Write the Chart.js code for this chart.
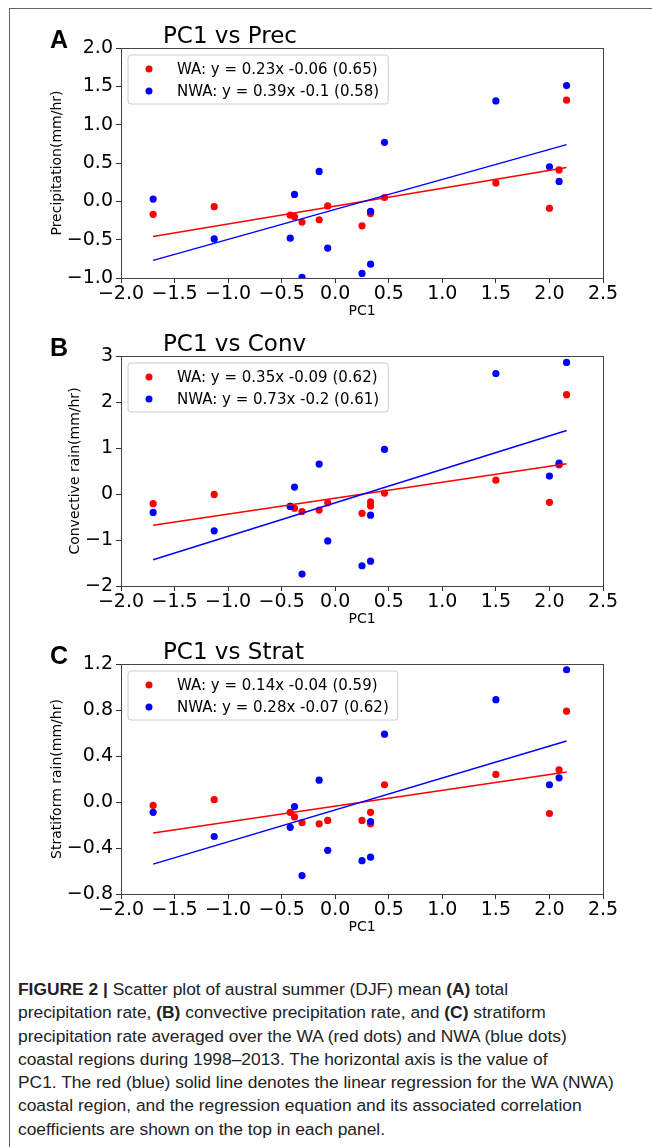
<!DOCTYPE html>
<html>
<head>
<meta charset="utf-8">
<script src="https://cdn.jsdelivr.net/npm/chart.js@4.4.0/dist/chart.umd.min.js"></script>
<style>
  html, body { margin:0; padding:0; background:#fff; }
  body { width:652px; height:1147px; position:relative; overflow:hidden; font-family:'DejaVu Sans', sans-serif; }
  .frame { position:absolute; left:9px; top:8px; width:660px; height:1160px; border-top:1.5px solid #666; border-left:1.5px solid #666; }
  .panel { position:absolute; left:0; width:652px; height:320px; }
  .panel canvas { position:absolute; left:0; top:0; }
  .letter { position:absolute; left:50px; top:27px; font:bold 25px 'Liberation Sans', Arial, sans-serif; line-height:1; color:#000; }
  .ptitle { position:absolute; left:163px; top:24px; font:23px 'DejaVu Sans', sans-serif; line-height:1; color:#000; }
  .caption { position:absolute; left:18px; top:978px; font:17.4px 'Liberation Sans', Arial, sans-serif; line-height:23.3px; color:#222; white-space:nowrap; }
  .caption b { font-weight:bold; }
</style>
</head>
<body>
<div class="frame"></div>

<div class="panel" style="top:0px">
  <canvas id="chartA" width="652" height="320"></canvas>
  <div class="letter">A</div>
  <div class="ptitle">PC1 vs Prec</div>
</div>
<div class="panel" style="top:308px">
  <canvas id="chartB" width="652" height="320"></canvas>
  <div class="letter">B</div>
  <div class="ptitle">PC1 vs Conv</div>
</div>
<div class="panel" style="top:616px">
  <canvas id="chartC" width="652" height="320"></canvas>
  <div class="letter">C</div>
  <div class="ptitle">PC1 vs Strat</div>
</div>

<div class="caption">
  <b>FIGURE 2 |</b> Scatter plot of austral summer (DJF) mean <b>(A)</b> total<br>
  precipitation rate, <b>(B)</b> convective precipitation rate, and <b>(C)</b> stratiform<br>
  precipitation rate averaged over the WA (red dots) and NWA (blue dots)<br>
  coastal regions during 1998–2013. The horizontal axis is the value of<br>
  PC1. The red (blue) solid line denotes the linear regression for the WA (NWA)<br>
  coastal region, and the regression equation and its associated correlation<br>
  coefficients are shown on the top in each panel.
</div>

<script>
// PC1 value per DJF season (shared by all panels)
const pc1 = [-1.70, -1.13, -0.42, -0.38, -0.31, -0.15, -0.07, 0.25, 0.33, 0.33, 0.46, 1.50, 2.00, 2.09, 2.16];

// A: total precipitation (mm/hr)
const precWA  = [-0.17, -0.07, -0.18, -0.20, -0.27, -0.24, -0.06, -0.32, -0.16, -0.14, 0.05, 0.24, -0.09, 0.41, 1.32];
const precNWA = [ 0.03, -0.49, -0.48,  0.09, -0.99,  0.39, -0.61, -0.94, -0.13, -0.82, 0.77, 1.31,  0.45, 0.26, 1.51];

// B: convective rain (mm/hr)
const convWA  = [-0.21, -0.01, -0.27, -0.31, -0.38, -0.35, -0.19, -0.42, -0.17, -0.26, 0.02, 0.30, -0.18, 0.63, 2.16];
const convNWA = [-0.40, -0.80, -0.27,  0.15, -1.74,  0.65, -1.02, -1.56, -0.46, -1.46, 0.97, 2.62,  0.39, 0.67, 2.86];

// C: stratiform rain (mm/hr)
const stratWA  = [-0.03,  0.02, -0.09, -0.13, -0.18, -0.19, -0.16, -0.16, -0.09, -0.19, 0.15, 0.24, -0.10, 0.28, 0.79];
const stratNWA = [-0.09, -0.30, -0.22, -0.04, -0.64,  0.19, -0.42, -0.51, -0.17, -0.48, 0.59, 0.89,  0.15, 0.21, 1.15];

// regression line ends (at min and max PC1)
const lineX        = [-1.70, 2.16];
const precFitWA    = [-0.46, 0.44];
const precFitNWA   = [-0.77, 0.74];
const convFitWA    = [-0.68, 0.66];
const convFitNWA   = [-1.43, 1.38];
const stratFitWA   = [-0.27, 0.26];
const stratFitNWA  = [-0.54, 0.53];

// legend text
const precLabels  = ['WA: y = 0.23x -0.06 (0.65)', 'NWA: y = 0.39x -0.1 (0.58)'];
const convLabels  = ['WA: y = 0.35x -0.09 (0.62)', 'NWA: y = 0.73x -0.2 (0.61)'];
const stratLabels = ['WA: y = 0.14x -0.04 (0.59)', 'NWA: y = 0.28x -0.07 (0.62)'];

// ticks
const xTicks     = [-2.0, -1.5, -1.0, -0.5, 0.0, 0.5, 1.0, 1.5, 2.0, 2.5];
const precTicks  = [-1.0, -0.5, 0.0, 0.5, 1.0, 1.5, 2.0];
const convTicks  = [-2, -1, 0, 1, 2, 3];
const stratTicks = [-0.8, -0.4, 0.0, 0.4, 0.8, 1.2];

const RED = '#ff0000', BLUE = '#0000ff';
const FONT = "'DejaVu Sans', sans-serif";
const fmt = (v, d) => v.toFixed(d).replace('-', '\u2212');

// matplotlib-like legend box in upper left of the axes
const boxLegend = {
  id: 'boxLegend',
  afterDatasetsDraw(chart) {
    const ctx = chart.ctx, a = chart.chartArea;
    const items = chart.data.datasets.filter(d => d.inLegend);
    ctx.save();
    ctx.font = '15px ' + FONT;
    const tw = Math.max(...items.map(d => ctx.measureText(d.label).width));
    const x0 = a.left + 7, y0 = a.top + 7, w = 49 + tw + 9, h = 49, r = 3;
    ctx.beginPath();
    ctx.moveTo(x0 + r, y0);
    ctx.arcTo(x0 + w, y0, x0 + w, y0 + h, r);
    ctx.arcTo(x0 + w, y0 + h, x0, y0 + h, r);
    ctx.arcTo(x0, y0 + h, x0, y0, r);
    ctx.arcTo(x0, y0, x0 + w, y0, r);
    ctx.closePath();
    ctx.fillStyle = 'rgba(255,255,255,0.8)';
    ctx.fill();
    ctx.strokeStyle = '#cccccc';
    ctx.lineWidth = 1;
    ctx.stroke();
    items.forEach((d, i) => {
      const cy = y0 + 14 + i * 22;
      ctx.beginPath();
      ctx.arc(x0 + 21, cy, 3.5, 0, Math.PI * 2);
      ctx.fillStyle = d.backgroundColor;
      ctx.fill();
      ctx.fillStyle = '#000';
      ctx.textBaseline = 'middle';
      ctx.fillText(d.label, x0 + 49, cy + 1);
    });
    ctx.restore();
  }
};

// four spines round the axes
const frame = {
  id: 'frame',
  afterDraw(chart) {
    const ctx = chart.ctx, a = chart.chartArea;
    ctx.save();
    ctx.strokeStyle = '#444';
    ctx.lineWidth = 1;
    ctx.strokeRect(Math.round(a.left) + 0.5, Math.round(a.top) + 0.5, Math.round(a.right - a.left), Math.round(a.bottom - a.top));
    ctx.restore();
  }
};

function makePanel(id, wa, nwa, fitWA, fitNWA, labels, yTicks, yDec, yTitle, yTitlePad) {
  const pts = arr => pc1.map((x, i) => ({x, y: arr[i]}));
  const line = arr => lineX.map((x, i) => ({x, y: arr[i]}));
  new Chart(document.getElementById(id), {
    type: 'scatter',
    data: {
      datasets: [
        { label: labels[0], inLegend: true, data: pts(wa), backgroundColor: RED, pointRadius: 3.6, pointBorderWidth: 0, order: 4 },
        { label: labels[1], inLegend: true, data: pts(nwa), backgroundColor: BLUE, pointRadius: 3.6, pointBorderWidth: 0, order: 3 },
        { label: 'fitWA', type: 'line', data: line(fitWA), borderColor: RED, borderWidth: 1.5, pointRadius: 0, fill: false, order: 2 },
        { label: 'fitNWA', type: 'line', data: line(fitNWA), borderColor: BLUE, borderWidth: 1.5, pointRadius: 0, fill: false, order: 1 },
      ],
    },
    options: {
      responsive: false, animation: false,
      layout: { padding: { top: 48, right: 49, left: 0, bottom: 0 } },
      plugins: { legend: { display: false }, tooltip: { enabled: false } },
      scales: {
        x: {
          type: 'linear', min: xTicks[0], max: xTicks[xTicks.length - 1],
          afterBuildTicks: s => { s.ticks = xTicks.map(v => ({value: v})); },
          afterFit: s => { s.height = 42; },
          grid: { drawOnChartArea: false, drawTicks: true, tickLength: 5, color: '#333' },
          border: { display: false },
          ticks: { color: '#000', font: { family: FONT, size: 19 }, padding: 0, maxRotation: 0, autoSkip: false, callback: v => fmt(v, 1) },
          title: { display: true, text: 'PC1', color: '#000', font: { family: FONT, size: 14 }, padding: { top: 0, bottom: 0 } },
        },
        y: {
          type: 'linear', min: yTicks[0], max: yTicks[yTicks.length - 1],
          afterBuildTicks: s => { s.ticks = yTicks.map(v => ({value: v})); },
          afterFit: s => { s.width = 121; },
          grid: { drawOnChartArea: false, drawTicks: true, tickLength: 5, color: '#333' },
          border: { display: false },
          ticks: { color: '#000', font: { family: FONT, size: 19 }, padding: 3, autoSkip: false, callback: v => fmt(v, yDec) },
          title: { display: true, text: yTitle, color: '#000', font: { family: FONT, size: 14 }, padding: { top: yTitlePad, bottom: 0 } },
        },
      },
    },
    plugins: [boxLegend, frame],
  });
}

makePanel('chartA', precWA, precNWA, precFitWA, precFitNWA, precLabels, precTicks, 1, 'Precipitation(mm/hr)', 48.6);
makePanel('chartB', convWA, convNWA, convFitWA, convFitNWA, convLabels, convTicks, 0, 'Convective rain(mm/hr)', 66.6);
makePanel('chartC', stratWA, stratNWA, stratFitWA, stratFitNWA, stratLabels, stratTicks, 1, 'Stratiform rain(mm/hr)', 48.6);
</script>
</body>
</html>
